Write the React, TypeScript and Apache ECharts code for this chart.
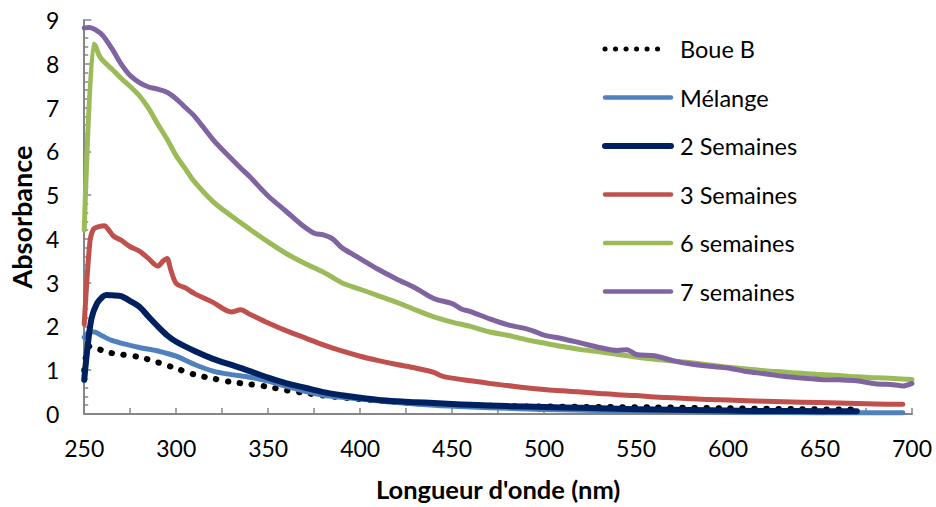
import React, { useEffect, useRef } from "react";
import * as echarts from "echarts";

const FONT = "Lato, 'Noto Sans', sans-serif";

const seriesNames = ["Boue B", "Mélange", "2 Semaines", "3 Semaines", "6 semaines", "7 semaines"];
const seriesColors = ["#000000", "#4F81BD", "#002060", "#C0504D", "#9BBB59", "#8064A2"];

const boueX = [250, 253, 260, 265, 270, 280, 290, 300, 310, 320, 330, 340, 350, 360, 370, 380, 390, 400, 420, 440, 460, 480, 500, 530, 560, 600, 640, 670];
const boueY = [1.0, 1.55, 1.45, 1.39, 1.36, 1.3, 1.18, 1.04, 0.9, 0.81, 0.73, 0.68, 0.62, 0.54, 0.48, 0.42, 0.38, 0.34, 0.27, 0.23, 0.2, 0.18, 0.17, 0.16, 0.15, 0.13, 0.11, 0.1];

const melangeX = [250, 253, 256, 260, 265, 270, 280, 290, 300, 310, 320, 330, 340, 350, 360, 370, 380, 390, 400, 420, 440, 460, 480, 500, 530, 560, 600, 650, 695];
const melangeY = [1.75, 1.88, 1.87, 1.78, 1.68, 1.62, 1.52, 1.44, 1.32, 1.13, 0.98, 0.9, 0.84, 0.75, 0.63, 0.52, 0.43, 0.38, 0.34, 0.26, 0.2, 0.16, 0.13, 0.1, 0.08, 0.06, 0.04, 0.03, 0.03];

const sem2X = [250, 252, 254, 257, 260, 262, 265, 270, 275, 280, 285, 290, 295, 300, 310, 320, 330, 340, 350, 360, 370, 380, 390, 400, 410, 420, 430, 440, 450, 460, 480, 500, 520, 540, 560, 580, 600, 620, 640, 660, 670];
const sem2Y = [0.78, 1.6, 2.19, 2.53, 2.68, 2.72, 2.71, 2.69, 2.58, 2.45, 2.22, 2.0, 1.8, 1.65, 1.44, 1.26, 1.12, 0.98, 0.83, 0.7, 0.6, 0.5, 0.43, 0.37, 0.32, 0.29, 0.27, 0.25, 0.23, 0.21, 0.18, 0.16, 0.14, 0.12, 0.1, 0.09, 0.08, 0.07, 0.07, 0.06, 0.06];

const sem3X = [250, 253, 255, 258, 261, 263, 266, 270, 275, 280, 285, 290, 293, 295, 297, 300, 305, 310, 320, 330, 335, 340, 350, 360, 370, 380, 390, 400, 410, 420, 430, 440, 445, 450, 460, 470, 480, 490, 500, 510, 520, 530, 540, 550, 560, 570, 580, 590, 600, 620, 640, 660, 680, 695];
const sem3Y = [2.05, 3.9, 4.22, 4.28, 4.3, 4.22, 4.06, 3.97, 3.82, 3.72, 3.55, 3.38, 3.5, 3.55, 3.3, 2.98, 2.88, 2.75, 2.55, 2.33, 2.38, 2.28, 2.08, 1.9, 1.74, 1.58, 1.44, 1.32, 1.22, 1.13, 1.05, 0.95, 0.86, 0.82, 0.76, 0.7, 0.65, 0.6, 0.56, 0.53, 0.5, 0.47, 0.44, 0.42, 0.39, 0.37, 0.35, 0.33, 0.32, 0.29, 0.27, 0.25, 0.23, 0.22];

const sem6X = [250, 255, 256, 258, 260, 265, 270, 275, 280, 285, 290, 295, 300, 305, 310, 320, 330, 340, 350, 360, 370, 380, 390, 400, 410, 420, 430, 440, 450, 460, 470, 480, 490, 500, 510, 520, 530, 540, 550, 560, 570, 580, 590, 600, 610, 620, 630, 640, 650, 660, 670, 680, 690, 700];
const sem6Y = [4.2, 8.45, 8.42, 8.2, 8.08, 7.88, 7.67, 7.48, 7.27, 6.98, 6.62, 6.28, 5.9, 5.6, 5.3, 4.85, 4.52, 4.22, 3.93, 3.66, 3.44, 3.24, 3.0, 2.85, 2.7, 2.55, 2.38, 2.22, 2.1, 2.0, 1.88, 1.8, 1.7, 1.62, 1.54, 1.47, 1.42, 1.36, 1.3, 1.25, 1.21, 1.17, 1.12, 1.07, 1.03, 0.99, 0.96, 0.93, 0.9, 0.88, 0.85, 0.83, 0.81, 0.79];

const sem7X = [250, 253, 256, 260, 265, 270, 275, 280, 285, 290, 295, 300, 305, 310, 320, 330, 335, 340, 350, 360, 368, 375, 380, 385, 390, 400, 410, 420, 430, 440, 450, 455, 460, 470, 480, 490, 495, 500, 510, 520, 530, 540, 545, 550, 560, 570, 580, 590, 600, 610, 620, 630, 640, 650, 660, 670, 680, 690, 695, 700];
const sem7Y = [8.82, 8.83, 8.78, 8.65, 8.35, 8.0, 7.73, 7.57, 7.47, 7.42, 7.35, 7.2, 7.0, 6.8, 6.27, 5.83, 5.62, 5.42, 4.98, 4.62, 4.33, 4.13, 4.09, 4.0, 3.8, 3.55, 3.3, 3.08, 2.88, 2.64, 2.52, 2.4, 2.34, 2.18, 2.04, 1.95, 1.88, 1.8, 1.72, 1.62, 1.52, 1.45, 1.47, 1.36, 1.33, 1.22, 1.14, 1.09, 1.05, 0.97, 0.92, 0.86, 0.82, 0.79, 0.78, 0.76, 0.69, 0.67, 0.64, 0.7];

const xs = [boueX, melangeX, sem2X, sem3X, sem6X, sem7X];
const ys = [boueY, melangeY, sem2Y, sem3Y, sem6Y, sem7Y];
const widths = [6, 5, 6, 5, 5, 5];
const legendWidths = [5, 4.5, 6, 4.5, 4.5, 4.5];

const xTitle = "Longueur d'onde (nm)";
const yTitle = "Absorbance";

export default function App() {
  const ref = useRef<HTMLDivElement>(null);
  useEffect(() => {
    if (!ref.current) return;
    const chart = echarts.init(ref.current, undefined, { renderer: "svg" });
    const series = seriesNames.map((name, i) => ({
      name,
      type: "line",
      data: xs[i].map((x, j) => [x, ys[i][j]]),
      showSymbol: false,
      symbol: "none",
      smooth: 0.3,
      lineStyle: i === 0
        ? { color: seriesColors[i], width: widths[i], type: [0.5, 11.5], cap: "round" }
        : { color: seriesColors[i], width: widths[i], cap: "round", join: "round" },
      itemStyle: { color: seriesColors[i] },
      z: 2 + i,
    }));
    const legendGraphics: any[] = [];
    seriesNames.forEach((name, i) => {
      const cy = 49 + 48.5 * i;
      legendGraphics.push({
        type: "line",
        shape: { x1: 605, y1: cy, x2: i === 0 ? 667 : 671, y2: cy },
        style: {
          stroke: seriesColors[i],
          lineWidth: legendWidths[i],
          lineCap: "round",
          lineDash: i === 0 ? [0.1, 10.4] : null,
        },
      });
      legendGraphics.push({
        type: "text",
        x: 680,
        y: cy,
        style: {
          text: name,
          fontFamily: FONT,
          fontSize: 23.5,
          fill: "#000",
          verticalAlign: "middle",
          textAlign: "left",
        },
      });
    });
    chart.setOption({
      animation: false,
      backgroundColor: "#ffffff",
      textStyle: { fontFamily: FONT },
      grid: { left: 82, right: 24, top: 20, bottom: 86, containLabel: false },
      graphic: legendGraphics,
      xAxis: {
        type: "value",
        min: 250,
        max: 700,
        interval: 50,
        name: xTitle,
        nameLocation: "middle",
        nameGap: 62,
        nameTextStyle: { fontFamily: FONT, fontSize: 25.5, fontWeight: "bold", color: "#000" },
        axisLine: { lineStyle: { color: "#868686", width: 2 } },
        axisTick: { inside: true, length: 6, lineStyle: { color: "#868686", width: 1.5 } },
        minorTick: { show: true, splitNumber: 2, length: 6, lineStyle: { color: "#868686", width: 1.5 } },
        axisLabel: { fontFamily: FONT, fontSize: 23, color: "#000", margin: 22 },
        splitLine: { show: false },
      },
      yAxis: {
        type: "value",
        min: 0,
        max: 9,
        interval: 1,
        name: yTitle,
        nameLocation: "middle",
        nameGap: 48,
        nameTextStyle: { fontFamily: FONT, fontSize: 27, fontWeight: "bold", color: "#000" },
        axisLine: { show: true, lineStyle: { color: "#868686", width: 2 } },
        axisTick: { show: true, inside: true, length: 7, lineStyle: { color: "#868686", width: 1.5 } },
        minorTick: { show: true, splitNumber: 5, length: 4, lineStyle: { color: "#868686", width: 1.5 } },
        axisLabel: { fontFamily: FONT, fontSize: 23, color: "#000", margin: 25 },
        splitLine: { show: false },
      },
      series,
    });
    return () => chart.dispose();
  }, []);
  return <div ref={ref} style={{ width: 936, height: 507, position: "absolute", left: 0, top: 0 }} />;
}
